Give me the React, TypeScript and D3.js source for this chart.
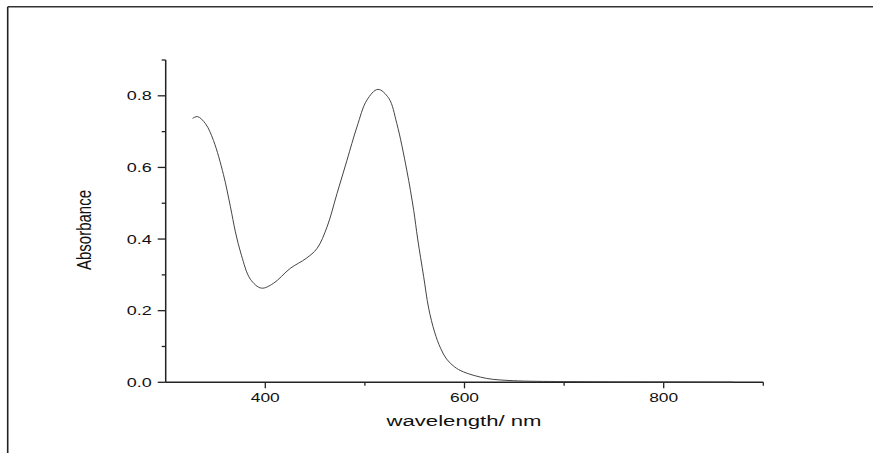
import React from "react";
import * as d3 from "d3";

const wavelengths = [327, 332, 340, 348, 358, 365, 370, 376, 385, 396, 408, 425, 441, 452, 462, 472, 482, 492, 502, 513, 524, 532, 542, 549, 553, 559, 564, 570, 576, 582, 590, 599, 622, 649, 699, 750, 800, 870];
const absorbance = [0.737, 0.742, 0.722, 0.675, 0.58, 0.49, 0.42, 0.355, 0.288, 0.263, 0.276, 0.318, 0.346, 0.374, 0.434, 0.527, 0.62, 0.713, 0.788, 0.818, 0.793, 0.723, 0.593, 0.48, 0.40, 0.295, 0.207, 0.14, 0.095, 0.065, 0.043, 0.029, 0.011, 0.0045, 0.002, 0.0012, 0.001, 0.0005];

const xMajor = [400, 600, 800];
const xMinor = [500, 700, 900];
const yMajor = [0, 0.2, 0.4, 0.6, 0.8];
const yMinor = [0.1, 0.3, 0.5, 0.7, 0.9];

const xTitle = "wavelength/ nm";
const yTitle = "Absorbance";

export default function App() {
  const W = 873, H = 453;
  const x = d3.scaleLinear().domain([300, 900]).range([165.7, 763.3]);
  const y = d3.scaleLinear().domain([0, 0.9]).range([382.3, 60]);
  const data = wavelengths.map((w, i) => [w, absorbance[i]] as [number, number]);
  const line = d3.line<[number, number]>().x(d => x(d[0])).y(d => y(d[1])).curve(d3.curveCatmullRom.alpha(0.5));
  const axisColor = "#222";
  const font = "'Liberation Sans', Arial, sans-serif";
  return (
    <svg width={W} height={H} style={{ position: "absolute", left: 0, top: 0, background: "#fff" }}>
      <rect x={0} y={0} width={W} height={H} fill="#fff" />
      {/* frame */}
      <line x1={7.7} y1={6.7} x2={W} y2={6.7} stroke="#333" strokeWidth={1.6} />
      <line x1={7.7} y1={6.7} x2={7.7} y2={H} stroke="#222" strokeWidth={1.6} />
      {/* axes */}
      <line x1={x(300)} y1={y(0)} x2={x(900)} y2={y(0)} stroke={axisColor} strokeWidth={1.5} />
      <line x1={x(300)} y1={y(0.9)} x2={x(300)} y2={y(0)} stroke={axisColor} strokeWidth={1.5} />
      {yMajor.map(v => (
        <g key={"ym" + v}>
          <line x1={x(300) - 8} x2={x(300)} y1={y(v)} y2={y(v)} stroke={axisColor} strokeWidth={1.3} />
          <text x={x(300) - 14} y={y(v)} dy="0.36em" textAnchor="end" fontFamily={font} fontSize={13}
            textLength={25} lengthAdjust="spacingAndGlyphs" fill="#111">{v.toFixed(1)}</text>
        </g>
      ))}
      {yMinor.map(v => (
        <line key={"yn" + v} x1={x(300) - 4} x2={x(300)} y1={y(v)} y2={y(v)} stroke={axisColor} strokeWidth={1.3} />
      ))}
      {xMajor.map(v => (
        <g key={"xm" + v}>
          <line x1={x(v)} x2={x(v)} y1={y(0)} y2={y(0) + 6} stroke={axisColor} strokeWidth={1.3} />
          <text x={x(v)} y={y(0) + 20} textAnchor="middle" fontFamily={font} fontSize={13}
            textLength={29} lengthAdjust="spacingAndGlyphs" fill="#111">{String(v)}</text>
        </g>
      ))}
      {xMinor.map(v => (
        <line key={"xn" + v} x1={x(v)} x2={x(v)} y1={y(0)} y2={y(0) + 3.5} stroke={axisColor} strokeWidth={1.3} />
      ))}
      <text x={464} y={425.5} textAnchor="middle" fontFamily={font} fontSize={15.5}
        textLength={155} lengthAdjust="spacingAndGlyphs" fill="#111">{xTitle}</text>
      <text transform="translate(91,230) scale(1.35,1) rotate(-90)" textAnchor="middle" fontFamily={font}
        fontSize={15} fill="#111">{yTitle}</text>
      <path d={line(data) || ""} fill="none" stroke="#444" strokeWidth={1} />
    </svg>
  );
}
